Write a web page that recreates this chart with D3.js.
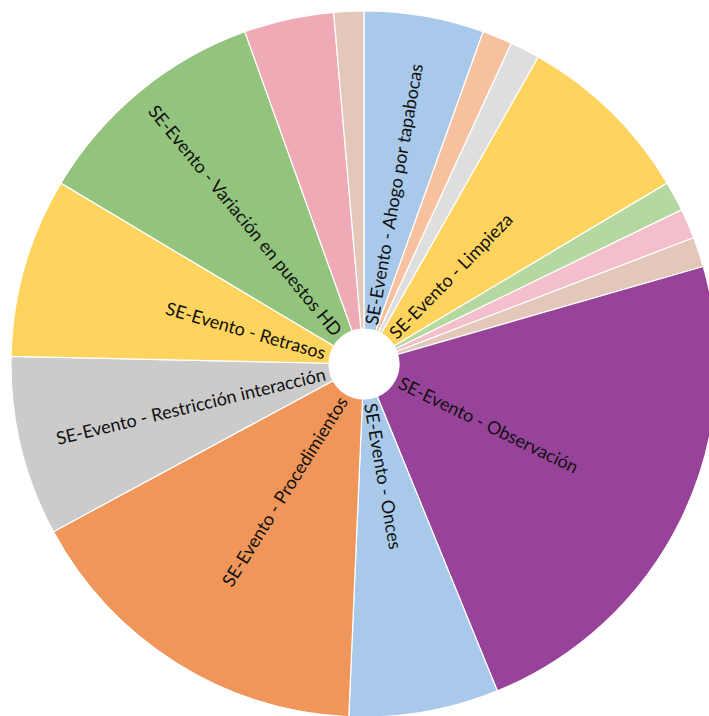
<!DOCTYPE html>
<html>
<head>
<meta charset="utf-8">
<script src="https://cdn.jsdelivr.net/npm/d3@7"></script>
<style>
  body { margin: 0; background: #fff; }
</style>
</head>
<body>
<div id="chart"></div>
<script>
// categories in drawing order, clockwise from 12 o'clock
const categories = [
  "SE-Evento - Ahogo por tapabocas",
  "SE-Evento - Otro 1",
  "SE-Evento - Otro 2",
  "SE-Evento - Limpieza",
  "SE-Evento - Otro 3",
  "SE-Evento - Otro 4",
  "SE-Evento - Otro 5",
  "SE-Evento - Observación",
  "SE-Evento - Onces",
  "SE-Evento - Procedimientos",
  "SE-Evento - Restricción interacción",
  "SE-Evento - Retrasos",
  "SE-Evento - Variación en puestos HD",
  "SE-Evento - Otro 6",
  "SE-Evento - Otro 7"
];
const values = [4, 1, 1, 6, 1, 1, 1, 17, 5, 12, 6, 6, 8, 3, 1];
const colors = [
  "#a8c9e9", "#f7c09e", "#dedede", "#fed35e", "#b3d8a0", "#f4bfcd", "#e3c7b8",
  "#98439a", "#a8c9e9", "#f0965a", "#cbcbcb", "#fed35e", "#93c47d", "#eeabb6", "#e3c7b8"
];
const minLabelValue = 4;

const chart = () => {
  let width = 709;
  let height = 716;
  let cx = 364;
  let cy = 364;
  let outerR = 353;
  let innerR = 35;
  let labelR = 40;

  let dataset = categories.map((c, i) => ({ name: c, value: values[i], color: colors[i] }));

  let svg = d3.select("#chart")
    .append("svg")
    .attr("width", width)
    .attr("height", height);

  let g = svg.append("g")
    .attr("transform", "translate(" + cx + "," + cy + ")");

  let pie = d3.pie()
    .sort(null)
    .value(d => d.value);

  let arc = d3.arc()
    .innerRadius(innerR)
    .outerRadius(outerR);

  let arcs = pie(dataset);

  g.selectAll("path")
    .data(arcs)
    .enter()
    .append("path")
    .attr("d", arc)
    .attr("fill", d => d.data.color)
    .attr("stroke", "#ffffff")
    .attr("stroke-width", 1.2);

  // radial labels, flipped on the left half so they stay readable
  g.selectAll("text")
    .data(arcs.filter(d => d.data.value >= minLabelValue))
    .enter()
    .append("text")
    .attr("transform", d => {
      let a = (d.startAngle + d.endAngle) / 2 * 180 / Math.PI;
      let x = labelR * Math.sin(a * Math.PI / 180);
      let y = -labelR * Math.cos(a * Math.PI / 180);
      let rot = a < 180 ? a - 90 : a + 90;
      return "translate(" + x + "," + y + ") rotate(" + rot + ")";
    })
    .attr("text-anchor", d => ((d.startAngle + d.endAngle) / 2 < Math.PI ? "start" : "end"))
    .attr("dominant-baseline", "central")
    .attr("font-family", "Lato, sans-serif")
    .attr("font-size", "18px")
    .attr("fill", "#111")
    .text(d => d.data.name);
};
chart();
</script>
</body>
</html>
